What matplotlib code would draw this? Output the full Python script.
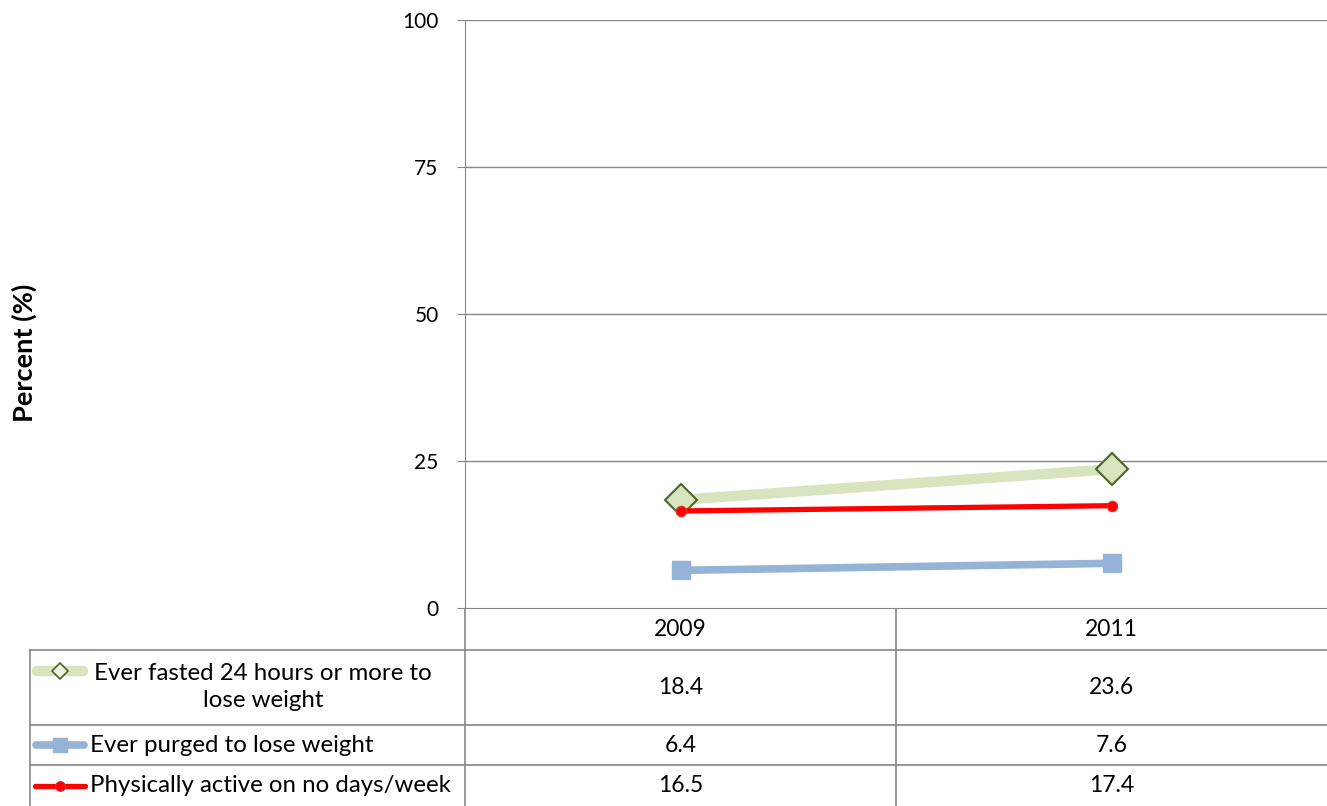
import matplotlib.pyplot as plt
from matplotlib.lines import Line2D

plt.rcParams['font.family'] = ['Lato', 'DejaVu Sans']

years = ['2009', '2011']
series_names = ['Ever fasted 24 hours or more to\nlose weight',
                'Ever purged to lose weight',
                'Physically active on no days/week']
fasted = [18.4, 23.6]
purged = [6.4, 7.6]
inactive = [16.5, 17.4]
y_ticks = [0, 25, 50, 75, 100]

W, H = 1327, 806
fig = plt.figure(figsize=(W / 100, H / 100), dpi=100)

# plot area in pixels
left, right, top, bottom = 465, 1327, 20, 608
ax = fig.add_axes([left / W, (H - bottom) / H, (right - left) / W, (bottom - top) / H])

grid_col = '#868686'
styles = [
    dict(color='#D7E4BD', lw=7.5, marker='D', ms=16, mfc='#D7E4BD', mec='#4F6228', mew=1.5),
    dict(color='#95B3D7', lw=5.5, marker='s', ms=13, mfc='#95B3D7', mec='#95B3D7'),
    dict(color='#FF0000', lw=3.8, marker='o', ms=7.5, mfc='#FF0000', mec='#E03030', mew=0.8),
]
data = [fasted, purged, inactive]
x = range(len(years))
for vals, st in zip(data, styles):
    ax.plot(x, vals, solid_capstyle='butt', **st)

ax.set_xlim(-0.5, len(years) - 0.5)
ax.set_ylim(0, 100)
ax.set_yticks(y_ticks)
ax.set_xticks([])
for y in y_ticks[1:]:
    ax.axhline(y, color=grid_col, lw=1, zorder=0)
for s in ['top', 'right']:
    ax.spines[s].set_visible(False)
for s in ['left', 'bottom']:
    ax.spines[s].set_color(grid_col)
ax.tick_params(axis='y', length=6, color=grid_col, labelsize=15, pad=13)
fig.text(24 / W, 1 - 353 / H, 'Percent (%)', rotation=90, ha='center', va='center',
         fontsize=19.6, fontweight='bold')

# data table below the plot, drawn in pixel coordinates
tax = fig.add_axes([0, 0, 1, (H - bottom) / H])
tax.set_xlim(0, W)
tax.set_ylim(H, bottom)
tax.axis('off')

col_w = (right - left) / len(years)
row_lines = [650, 725, 765]
for yl in row_lines:
    tax.plot([30, W], [yl, yl], color=grid_col, lw=1.2)
tax.plot([30, 30], [650, H], color=grid_col, lw=1.2)
tax.plot([left, left], [bottom, H], color=grid_col, lw=1.2)
for i in range(1, len(years)):
    xv = left + i * col_w
    tax.plot([xv, xv], [bottom, H], color=grid_col, lw=1.2)

for i, yr in enumerate(years):
    tax.text(left + (i + 0.5) * col_w, 630, yr, ha='center', va='center', fontsize=16.5)

row_centers = [687, 745, 786]
key_y = [671, 745, 786]
for r, (name, vals, st) in enumerate(zip(series_names, data, styles)):
    for i, v in enumerate(vals):
        tax.text(left + (i + 0.5) * col_w, row_centers[r], f'{v:.1f}', ha='center',
                 va='center', fontsize=16.5)
    kst = dict(st)
    kst['ms'] = {0: 8, 1: 10, 2: 7}[r]
    if r == 0:
        kst['mfc'] = '#EEF3E2'
        kst['mew'] = 1.2
    half = kst['lw'] * 100 / 72 / 2
    tax.add_line(Line2D([32 + half, 60, 88 - half], [key_y[r]] * 3,
                        solid_capstyle='round', markevery=[1], **kst))
    if r == 0:
        tax.text(263, row_centers[r], name, ha='center', va='center', fontsize=17.3,
                 multialignment='center', linespacing=1.3)
    else:
        tax.text(90, row_centers[r], name, ha='left', va='center', fontsize=17.3)

fig.savefig('out.png', dpi=100)
